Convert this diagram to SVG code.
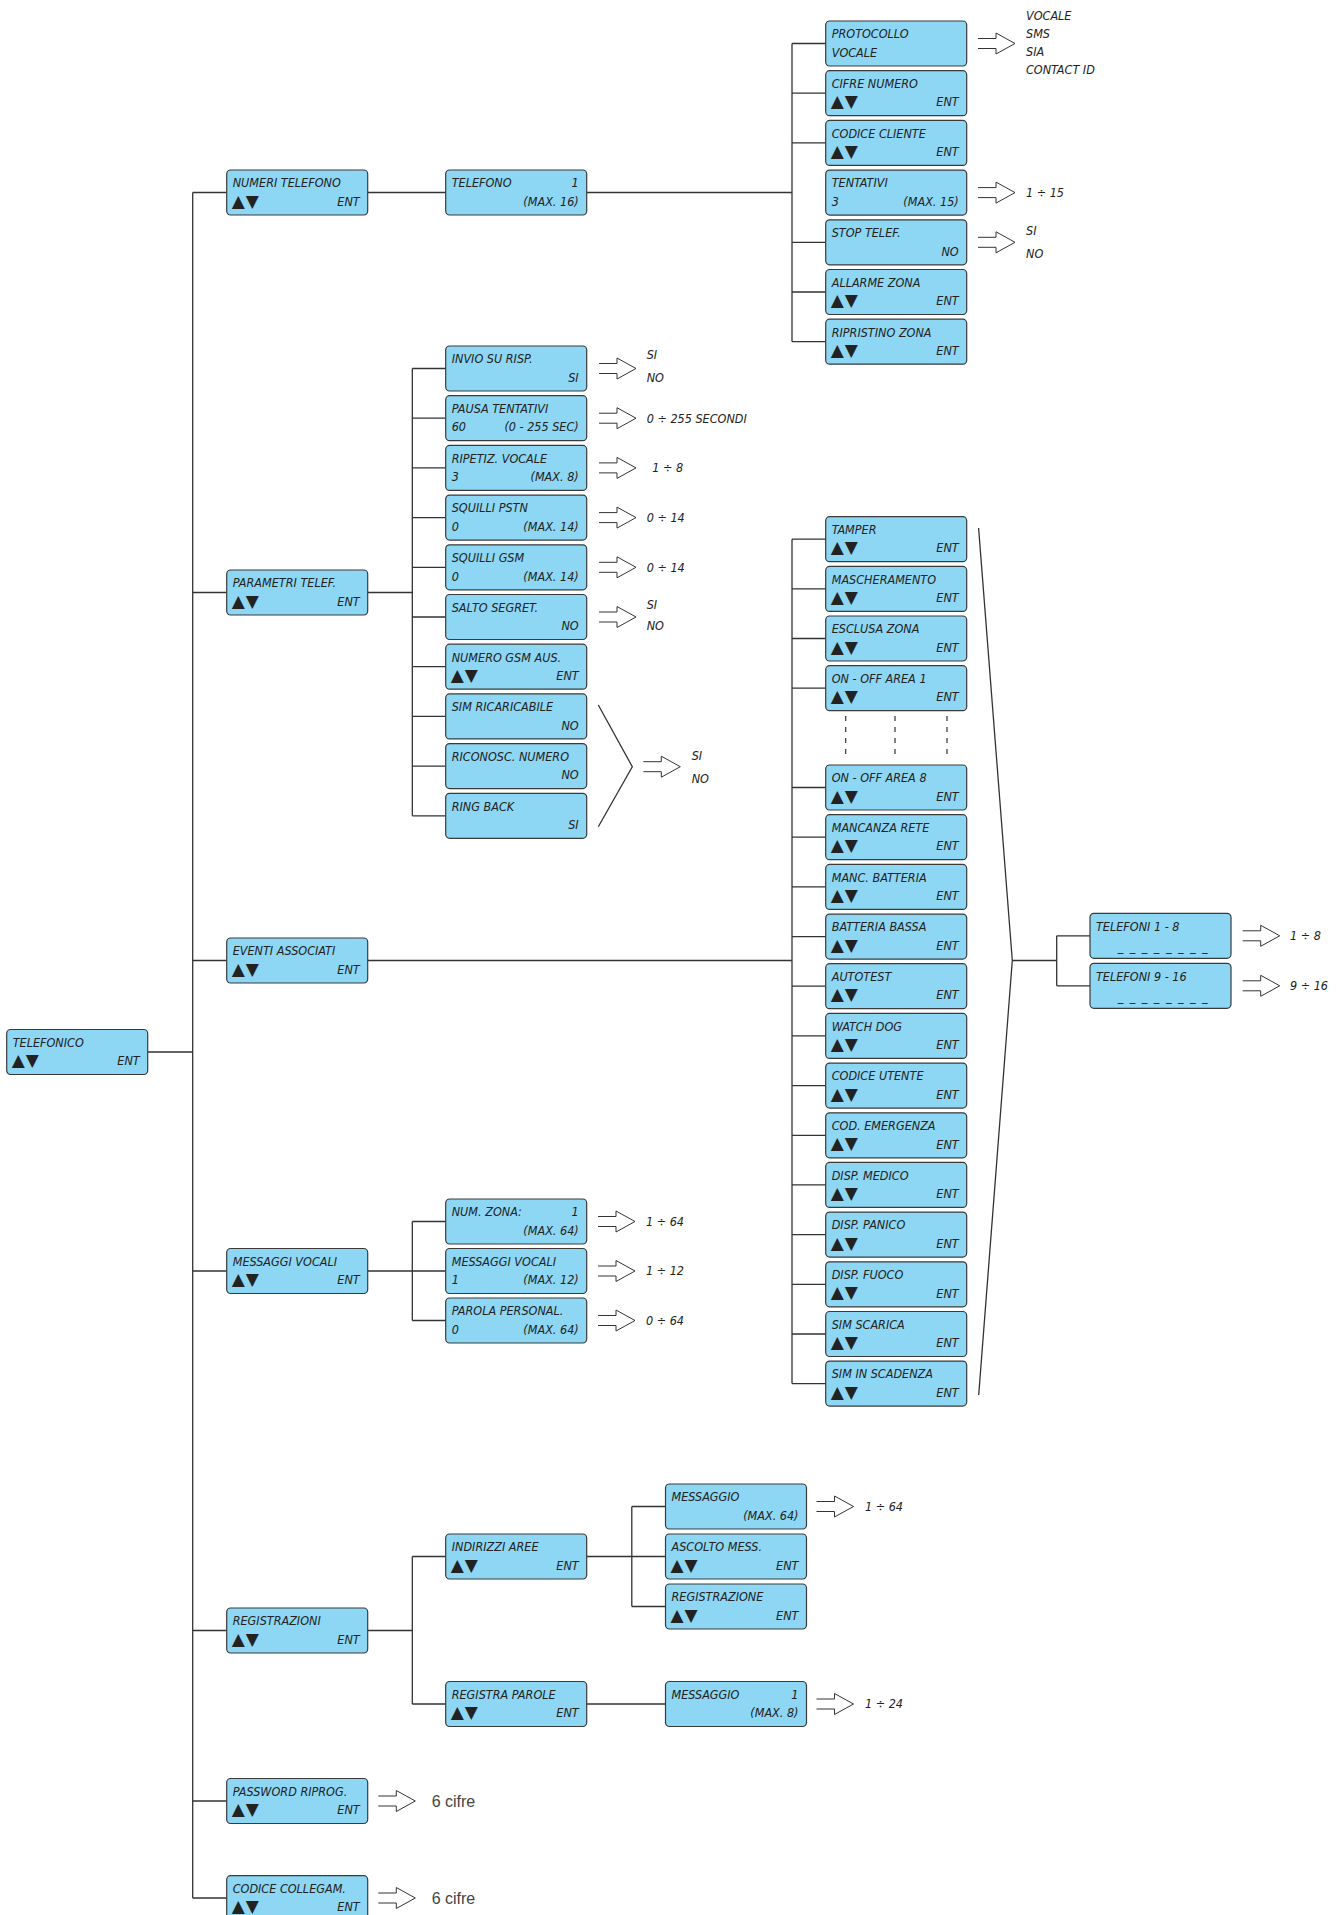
<svg xmlns="http://www.w3.org/2000/svg" xmlns:xlink="http://www.w3.org/1999/xlink" width="1344" height="1915" viewBox="0 0 1344 1915">
<style>
.b{fill:#8dd7f5;stroke:#3a3a3a;stroke-width:1.2}
.t{font-family:"Liberation Sans Narrow","DejaVu Sans Condensed","Liberation Sans",sans-serif;font-style:italic;font-size:12.5px;fill:#222}
.r{text-anchor:end}
.k{font-family:"DejaVu Sans",sans-serif;font-size:17px;letter-spacing:1px;fill:#222}
.ln{fill:none;stroke:#333;stroke-width:1.3}
.dt{fill:none;stroke:#333;stroke-width:1.2;stroke-dasharray:5 6}
.ar{fill:#fff;stroke:#333;stroke-width:1}
.c6{font-family:"Liberation Sans",Arial,sans-serif;font-size:16px;fill:#444}
</style>
<defs>
<path id="arr" class="ar" d="M0,-5 H18 V-10.5 L37,0 L18,10.5 V5 H0"/>
</defs>
<rect width="1344" height="1915" fill="#fff"/>

<g id="connectors">
<path class="ln" d="M192.7,192.5 V1898 M148,1052 H192.7 M192.7,192.5 H226.7 M192.7,592.5 H226.7 M192.7,960.5 H226.7 M192.7,1271 H226.7 M192.7,1630.5 H226.7 M192.7,1801 H226.7 M192.7,1898 H226.7"/>
<path class="ln" d="M367.7,192.5 H445.7 M586.7,192.5 H792 M792,43.5 V341.7 M792,43.5 H825.7 M792,93.2 H825.7 M792,142.9 H825.7 M792,242.3 H825.7 M792,292 H825.7 M792,341.7 H825.7"/>
<path class="ln" d="M367.7,592.5 H412.3 M412.3,368.5 V815.8 M412.3,368.5 H445.7 M412.3,418.2 H445.7 M412.3,467.9 H445.7 M412.3,517.6 H445.7 M412.3,567.3 H445.7 M412.3,617 H445.7 M412.3,666.7 H445.7 M412.3,716.4 H445.7 M412.3,766.1 H445.7 M412.3,815.8 H445.7"/>
<path class="ln" d="M367.7,960.5 H792 M792,539.2 V1383.6 M792,539.2 H825.7 M792,588.9 H825.7 M792,638.5 H825.7 M792,688.2 H825.7 M792,787.5 H825.7 M792,837.2 H825.7 M792,886.9 H825.7 M792,936.6 H825.7 M792,986.2 H825.7 M792,1035.9 H825.7 M792,1085.6 H825.7 M792,1135.3 H825.7 M792,1184.9 H825.7 M792,1234.6 H825.7 M792,1284.3 H825.7 M792,1334 H825.7 M792,1383.6 H825.7"/>
<path class="ln" d="M367.7,1271 H445.7 M412.3,1221.5 V1320.5 M412.3,1221.5 H445.7 M412.3,1320.5 H445.7"/>
<path class="ln" d="M367.7,1630.5 H412.3 M412.3,1556.5 V1704 M412.3,1556.5 H445.7 M412.3,1704 H445.7 M586.7,1556.5 H665.5 M631.8,1506.5 V1606.5 M631.8,1506.5 H665.5 M631.8,1606.5 H665.5 M586.7,1704 H665.5"/>
<path class="ln" d="M598.3,705 L632.3,766.7 L598.3,826.7"/>
<path class="ln" d="M978.6,528 L1012.3,960.5 L978.7,1395 M1012.3,960.5 H1056.7 M1056.7,935.8 V985.8 M1056.7,935.8 H1090 M1056.7,985.8 H1090"/>
<path class="dt" d="M845.7,716 V760 M895,716 V760 M947,716 V760"/>
</g>

<g id="arrows">
<use xlink:href="#arr" x="978" y="43.5"/>
<use xlink:href="#arr" x="978" y="192.6"/>
<use xlink:href="#arr" x="978" y="242.3"/>
<use xlink:href="#arr" x="599" y="368.5"/>
<use xlink:href="#arr" x="599" y="418.2"/>
<use xlink:href="#arr" x="599" y="467.9"/>
<use xlink:href="#arr" x="599" y="517.6"/>
<use xlink:href="#arr" x="599" y="567.3"/>
<use xlink:href="#arr" x="599" y="617"/>
<use xlink:href="#arr" x="643.3" y="766.7"/>
<use xlink:href="#arr" x="1242.7" y="935.8"/>
<use xlink:href="#arr" x="1242.7" y="985.8"/>
<use xlink:href="#arr" x="598" y="1221.5"/>
<use xlink:href="#arr" x="598" y="1271"/>
<use xlink:href="#arr" x="598" y="1320.5"/>
<use xlink:href="#arr" x="816.5" y="1506.5"/>
<use xlink:href="#arr" x="816.5" y="1704"/>
<use xlink:href="#arr" x="378.3" y="1801"/>
<use xlink:href="#arr" x="378.3" y="1898"/>
</g>

<g id="values">
<text class="t" x="1026" y="20">VOCALE</text>
<text class="t" x="1026" y="38">SMS</text>
<text class="t" x="1026" y="56.3">SIA</text>
<text class="t" x="1026" y="74.3">CONTACT ID</text>
<text class="t" x="1026" y="197">1 ÷ 15</text>
<text class="t" x="1026" y="235">SI</text>
<text class="t" x="1026" y="257.6">NO</text>
<text class="t" x="646.7" y="359.3">SI</text>
<text class="t" x="646.7" y="381.6">NO</text>
<text class="t" x="646.7" y="422.5">0 ÷ 255 SECONDI</text>
<text class="t" x="652.3" y="472.2">1 ÷ 8</text>
<text class="t" x="646.7" y="521.9">0 ÷ 14</text>
<text class="t" x="646.7" y="571.6">0 ÷ 14</text>
<text class="t" x="646.7" y="609.3">SI</text>
<text class="t" x="646.7" y="630.3">NO</text>
<text class="t" x="691.7" y="760">SI</text>
<text class="t" x="691.7" y="783.3">NO</text>
<text class="t" x="1290" y="940">1 ÷ 8</text>
<text class="t" x="1290" y="990">9 ÷ 16</text>
<text class="t" x="646" y="1225.8">1 ÷ 64</text>
<text class="t" x="646" y="1275.3">1 ÷ 12</text>
<text class="t" x="646" y="1324.8">0 ÷ 64</text>
<text class="t" x="865" y="1510.8">1 ÷ 64</text>
<text class="t" x="865" y="1708.3">1 ÷ 24</text>
<text class="c6" x="431.7" y="1806.5">6 cifre</text>
<text class="c6" x="431.7" y="1903.5">6 cifre</text>
</g>

<g id="n-telefonico"><rect class="b" x="6.7" y="1029.5" width="141" height="45" rx="4"/><text class="t" x="12.7" y="1046.8">TELEFONICO</text><text class="k" x="11.7" y="1066">▲▼</text><text class="t r" x="139.7" y="1065.2">ENT</text></g>

<g id="n-numeri-telefono"><rect class="b" x="226.7" y="170" width="141" height="45" rx="4"/><text class="t" x="232.7" y="187.3">NUMERI TELEFONO</text><text class="k" x="231.7" y="206.5">▲▼</text><text class="t r" x="359.7" y="205.7">ENT</text></g>
<g id="n-parametri-telef"><rect class="b" x="226.7" y="570" width="141" height="45" rx="4"/><text class="t" x="232.7" y="587.3">PARAMETRI TELEF.</text><text class="k" x="231.7" y="606.5">▲▼</text><text class="t r" x="359.7" y="605.7">ENT</text></g>
<g id="n-eventi-associati"><rect class="b" x="226.7" y="938" width="141" height="45" rx="4"/><text class="t" x="232.7" y="955.3">EVENTI ASSOCIATI</text><text class="k" x="231.7" y="974.5">▲▼</text><text class="t r" x="359.7" y="973.7">ENT</text></g>
<g id="n-messaggi-vocali"><rect class="b" x="226.7" y="1248.5" width="141" height="45" rx="4"/><text class="t" x="232.7" y="1265.8">MESSAGGI VOCALI</text><text class="k" x="231.7" y="1285">▲▼</text><text class="t r" x="359.7" y="1284.2">ENT</text></g>
<g id="n-registrazioni"><rect class="b" x="226.7" y="1608" width="141" height="45" rx="4"/><text class="t" x="232.7" y="1625.3">REGISTRAZIONI</text><text class="k" x="231.7" y="1644.5">▲▼</text><text class="t r" x="359.7" y="1643.7">ENT</text></g>
<g id="n-password"><rect class="b" x="226.7" y="1778.5" width="141" height="45" rx="4"/><text class="t" x="232.7" y="1795.8">PASSWORD RIPROG.</text><text class="k" x="231.7" y="1815">▲▼</text><text class="t r" x="359.7" y="1814.2">ENT</text></g>
<g id="n-codice-collegam"><rect class="b" x="226.7" y="1875.7" width="141" height="45" rx="4"/><text class="t" x="232.7" y="1893">CODICE COLLEGAM.</text><text class="k" x="231.7" y="1912.2">▲▼</text><text class="t r" x="359.7" y="1911.4">ENT</text></g>

<g id="n-telefono"><rect class="b" x="445.7" y="170" width="141" height="45" rx="4"/><text class="t" x="451.7" y="187.3">TELEFONO</text><text class="t r" x="578.7" y="187.3">1</text><text class="t r" x="578.7" y="205.7">(MAX. 16)</text></g>

<g id="n-invio"><rect class="b" x="445.7" y="346" width="141" height="45" rx="4"/><text class="t" x="451.7" y="363.3">INVIO SU RISP.</text><text class="t r" x="578.7" y="381.7">SI</text></g>
<g id="n-pausa"><rect class="b" x="445.7" y="395.7" width="141" height="45" rx="4"/><text class="t" x="451.7" y="413">PAUSA TENTATIVI</text><text class="t" x="451.7" y="431.4">60</text><text class="t r" x="578.7" y="431.4">(0 - 255 SEC)</text></g>
<g id="n-ripetiz"><rect class="b" x="445.7" y="445.4" width="141" height="45" rx="4"/><text class="t" x="451.7" y="462.7">RIPETIZ. VOCALE</text><text class="t" x="451.7" y="481.1">3</text><text class="t r" x="578.7" y="481.1">(MAX. 8)</text></g>
<g id="n-squilli-pstn"><rect class="b" x="445.7" y="495.1" width="141" height="45" rx="4"/><text class="t" x="451.7" y="512.4">SQUILLI PSTN</text><text class="t" x="451.7" y="530.8">0</text><text class="t r" x="578.7" y="530.8">(MAX. 14)</text></g>
<g id="n-squilli-gsm"><rect class="b" x="445.7" y="544.8" width="141" height="45" rx="4"/><text class="t" x="451.7" y="562.1">SQUILLI GSM</text><text class="t" x="451.7" y="580.5">0</text><text class="t r" x="578.7" y="580.5">(MAX. 14)</text></g>
<g id="n-salto"><rect class="b" x="445.7" y="594.5" width="141" height="45" rx="4"/><text class="t" x="451.7" y="611.8">SALTO SEGRET.</text><text class="t r" x="578.7" y="630.2">NO</text></g>
<g id="n-numero-gsm"><rect class="b" x="445.7" y="644.2" width="141" height="45" rx="4"/><text class="t" x="451.7" y="661.5">NUMERO GSM AUS.</text><text class="k" x="450.7" y="680.7">▲▼</text><text class="t r" x="578.7" y="679.9">ENT</text></g>
<g id="n-sim-ricaricabile"><rect class="b" x="445.7" y="693.9" width="141" height="45" rx="4"/><text class="t" x="451.7" y="711.2">SIM RICARICABILE</text><text class="t r" x="578.7" y="729.6">NO</text></g>
<g id="n-riconosc"><rect class="b" x="445.7" y="743.6" width="141" height="45" rx="4"/><text class="t" x="451.7" y="760.9">RICONOSC. NUMERO</text><text class="t r" x="578.7" y="779.3">NO</text></g>
<g id="n-ring-back"><rect class="b" x="445.7" y="793.3" width="141" height="45" rx="4"/><text class="t" x="451.7" y="810.6">RING BACK</text><text class="t r" x="578.7" y="829">SI</text></g>

<g id="n-num-zona"><rect class="b" x="445.7" y="1199" width="141" height="45" rx="4"/><text class="t" x="451.7" y="1216.3">NUM. ZONA:</text><text class="t r" x="578.7" y="1216.3">1</text><text class="t r" x="578.7" y="1234.7">(MAX. 64)</text></g>
<g id="n-messaggi-vocali-2"><rect class="b" x="445.7" y="1248.5" width="141" height="45" rx="4"/><text class="t" x="451.7" y="1265.8">MESSAGGI VOCALI</text><text class="t" x="451.7" y="1284.2">1</text><text class="t r" x="578.7" y="1284.2">(MAX. 12)</text></g>
<g id="n-parola"><rect class="b" x="445.7" y="1298" width="141" height="45" rx="4"/><text class="t" x="451.7" y="1315.3">PAROLA PERSONAL.</text><text class="t" x="451.7" y="1333.7">0</text><text class="t r" x="578.7" y="1333.7">(MAX. 64)</text></g>

<g id="n-indirizzi"><rect class="b" x="445.7" y="1534" width="141" height="45" rx="4"/><text class="t" x="451.7" y="1551.3">INDIRIZZI AREE</text><text class="k" x="450.7" y="1570.5">▲▼</text><text class="t r" x="578.7" y="1569.7">ENT</text></g>
<g id="n-registra-parole"><rect class="b" x="445.7" y="1681.5" width="141" height="45" rx="4"/><text class="t" x="451.7" y="1698.8">REGISTRA PAROLE</text><text class="k" x="450.7" y="1718">▲▼</text><text class="t r" x="578.7" y="1717.2">ENT</text></g>

<g id="n-messaggio"><rect class="b" x="665.5" y="1484" width="141" height="45" rx="4"/><text class="t" x="671.5" y="1501.3">MESSAGGIO</text><text class="t r" x="798.5" y="1519.7">(MAX. 64)</text></g>
<g id="n-ascolto"><rect class="b" x="665.5" y="1534" width="141" height="45" rx="4"/><text class="t" x="671.5" y="1551.3">ASCOLTO MESS.</text><text class="k" x="670.5" y="1570.5">▲▼</text><text class="t r" x="798.5" y="1569.7">ENT</text></g>
<g id="n-registrazione"><rect class="b" x="665.5" y="1584" width="141" height="45" rx="4"/><text class="t" x="671.5" y="1601.3">REGISTRAZIONE</text><text class="k" x="670.5" y="1620.5">▲▼</text><text class="t r" x="798.5" y="1619.7">ENT</text></g>
<g id="n-messaggio-2"><rect class="b" x="665.5" y="1681.5" width="141" height="45" rx="4"/><text class="t" x="671.5" y="1698.8">MESSAGGIO</text><text class="t r" x="798.5" y="1698.8">1</text><text class="t r" x="798.5" y="1717.2">(MAX. 8)</text></g>

<g id="n-protocollo"><rect class="b" x="825.7" y="21" width="141" height="45" rx="4"/><text class="t" x="831.7" y="38.3">PROTOCOLLO</text><text class="t" x="831.7" y="56.7">VOCALE</text></g>
<g id="n-cifre-numero"><rect class="b" x="825.7" y="70.7" width="141" height="45" rx="4"/><text class="t" x="831.7" y="88">CIFRE NUMERO</text><text class="k" x="830.7" y="107.2">▲▼</text><text class="t r" x="958.7" y="106.4">ENT</text></g>
<g id="n-codice-cliente"><rect class="b" x="825.7" y="120.4" width="141" height="45" rx="4"/><text class="t" x="831.7" y="137.7">CODICE CLIENTE</text><text class="k" x="830.7" y="156.9">▲▼</text><text class="t r" x="958.7" y="156.1">ENT</text></g>
<g id="n-tentativi"><rect class="b" x="825.7" y="170.1" width="141" height="45" rx="4"/><text class="t" x="831.7" y="187.4">TENTATIVI</text><text class="t" x="831.7" y="205.8">3</text><text class="t r" x="958.7" y="205.8">(MAX. 15)</text></g>
<g id="n-stop-telef"><rect class="b" x="825.7" y="219.8" width="141" height="45" rx="4"/><text class="t" x="831.7" y="237.1">STOP TELEF.</text><text class="t r" x="958.7" y="255.5">NO</text></g>
<g id="n-allarme-zona"><rect class="b" x="825.7" y="269.5" width="141" height="45" rx="4"/><text class="t" x="831.7" y="286.8">ALLARME ZONA</text><text class="k" x="830.7" y="306">▲▼</text><text class="t r" x="958.7" y="305.2">ENT</text></g>
<g id="n-ripristino-zona"><rect class="b" x="825.7" y="319.2" width="141" height="45" rx="4"/><text class="t" x="831.7" y="336.5">RIPRISTINO ZONA</text><text class="k" x="830.7" y="355.7">▲▼</text><text class="t r" x="958.7" y="354.9">ENT</text></g>

<g id="n-tamper"><rect class="b" x="825.7" y="516.7" width="141" height="45" rx="4"/><text class="t" x="831.7" y="534">TAMPER</text><text class="k" x="830.7" y="553.2">▲▼</text><text class="t r" x="958.7" y="552.4">ENT</text></g>
<g id="n-mascheramento"><rect class="b" x="825.7" y="566.4" width="141" height="45" rx="4"/><text class="t" x="831.7" y="583.7">MASCHERAMENTO</text><text class="k" x="830.7" y="602.9">▲▼</text><text class="t r" x="958.7" y="602.1">ENT</text></g>
<g id="n-esclusa-zona"><rect class="b" x="825.7" y="616" width="141" height="45" rx="4"/><text class="t" x="831.7" y="633.3">ESCLUSA ZONA</text><text class="k" x="830.7" y="652.5">▲▼</text><text class="t r" x="958.7" y="651.7">ENT</text></g>
<g id="n-on-off-1"><rect class="b" x="825.7" y="665.7" width="141" height="45" rx="4"/><text class="t" x="831.7" y="683">ON - OFF AREA 1</text><text class="k" x="830.7" y="702.2">▲▼</text><text class="t r" x="958.7" y="701.4">ENT</text></g>
<g id="n-on-off-8"><rect class="b" x="825.7" y="765" width="141" height="45" rx="4"/><text class="t" x="831.7" y="782.3">ON - OFF AREA 8</text><text class="k" x="830.7" y="801.5">▲▼</text><text class="t r" x="958.7" y="800.7">ENT</text></g>
<g id="n-mancanza-rete"><rect class="b" x="825.7" y="814.7" width="141" height="45" rx="4"/><text class="t" x="831.7" y="832">MANCANZA RETE</text><text class="k" x="830.7" y="851.2">▲▼</text><text class="t r" x="958.7" y="850.4">ENT</text></g>
<g id="n-manc-batteria"><rect class="b" x="825.7" y="864.4" width="141" height="45" rx="4"/><text class="t" x="831.7" y="881.7">MANC. BATTERIA</text><text class="k" x="830.7" y="900.9">▲▼</text><text class="t r" x="958.7" y="900.1">ENT</text></g>
<g id="n-batteria-bassa"><rect class="b" x="825.7" y="914.1" width="141" height="45" rx="4"/><text class="t" x="831.7" y="931.4">BATTERIA BASSA</text><text class="k" x="830.7" y="950.6">▲▼</text><text class="t r" x="958.7" y="949.8">ENT</text></g>
<g id="n-autotest"><rect class="b" x="825.7" y="963.7" width="141" height="45" rx="4"/><text class="t" x="831.7" y="981">AUTOTEST</text><text class="k" x="830.7" y="1000.2">▲▼</text><text class="t r" x="958.7" y="999.4">ENT</text></g>
<g id="n-watch-dog"><rect class="b" x="825.7" y="1013.4" width="141" height="45" rx="4"/><text class="t" x="831.7" y="1030.7">WATCH DOG</text><text class="k" x="830.7" y="1049.9">▲▼</text><text class="t r" x="958.7" y="1049.1">ENT</text></g>
<g id="n-codice-utente"><rect class="b" x="825.7" y="1063.1" width="141" height="45" rx="4"/><text class="t" x="831.7" y="1080.4">CODICE UTENTE</text><text class="k" x="830.7" y="1099.6">▲▼</text><text class="t r" x="958.7" y="1098.8">ENT</text></g>
<g id="n-cod-emergenza"><rect class="b" x="825.7" y="1112.8" width="141" height="45" rx="4"/><text class="t" x="831.7" y="1130.1">COD. EMERGENZA</text><text class="k" x="830.7" y="1149.3">▲▼</text><text class="t r" x="958.7" y="1148.5">ENT</text></g>
<g id="n-disp-medico"><rect class="b" x="825.7" y="1162.4" width="141" height="45" rx="4"/><text class="t" x="831.7" y="1179.7">DISP. MEDICO</text><text class="k" x="830.7" y="1198.9">▲▼</text><text class="t r" x="958.7" y="1198.1">ENT</text></g>
<g id="n-disp-panico"><rect class="b" x="825.7" y="1212.1" width="141" height="45" rx="4"/><text class="t" x="831.7" y="1229.4">DISP. PANICO</text><text class="k" x="830.7" y="1248.6">▲▼</text><text class="t r" x="958.7" y="1247.8">ENT</text></g>
<g id="n-disp-fuoco"><rect class="b" x="825.7" y="1261.8" width="141" height="45" rx="4"/><text class="t" x="831.7" y="1279.1">DISP. FUOCO</text><text class="k" x="830.7" y="1298.3">▲▼</text><text class="t r" x="958.7" y="1297.5">ENT</text></g>
<g id="n-sim-scarica"><rect class="b" x="825.7" y="1311.5" width="141" height="45" rx="4"/><text class="t" x="831.7" y="1328.8">SIM SCARICA</text><text class="k" x="830.7" y="1348">▲▼</text><text class="t r" x="958.7" y="1347.2">ENT</text></g>
<g id="n-sim-in-scadenza"><rect class="b" x="825.7" y="1361.1" width="141" height="45" rx="4"/><text class="t" x="831.7" y="1378.4">SIM IN SCADENZA</text><text class="k" x="830.7" y="1397.6">▲▼</text><text class="t r" x="958.7" y="1396.8">ENT</text></g>

<g id="n-telefoni-1-8"><rect class="b" x="1090" y="913.3" width="141" height="45" rx="4"/><text class="t" x="1096" y="930.6">TELEFONI 1 - 8</text><text class="t" x="1117.7" y="951" textLength="90">_ _ _ _ _ _ _ _</text></g>
<g id="n-telefoni-9-16"><rect class="b" x="1090" y="963.3" width="141" height="45" rx="4"/><text class="t" x="1096" y="980.6">TELEFONI 9 - 16</text><text class="t" x="1117.7" y="1001" textLength="90">_ _ _ _ _ _ _ _</text></g>
</svg>
